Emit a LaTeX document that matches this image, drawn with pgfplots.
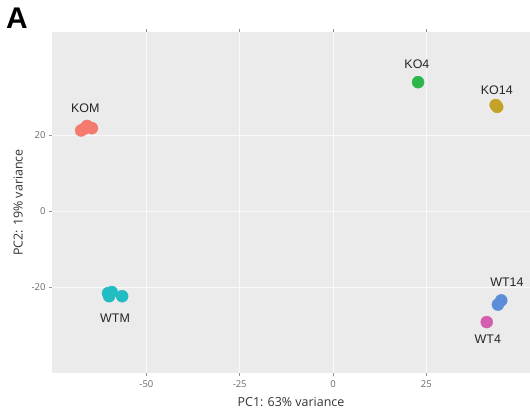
\documentclass[border=0pt]{standalone}
\usepackage{pgfplots}
\pgfplotsset{compat=1.18}
\usepackage{fontspec}
\setmainfont{Liberation Sans}
\newfontfamily\axfont{Open Sans}
\definecolor{panel}{HTML}{EBEBEB}
\definecolor{tickgray}{HTML}{4D4D4D}
\definecolor{cKOM}{HTML}{F47B6E}
\definecolor{cKOf}{HTML}{2DB64A}
\definecolor{cKOft}{HTML}{C4A227}
\definecolor{cWTM}{HTML}{22BCC2}
\definecolor{cWTft}{HTML}{5B8ED8}
\definecolor{cWTf}{HTML}{D45FB0}
\begin{document}
\begin{tikzpicture}[x=1bp,y=1bp]
\useasboundingbox (0,0) rectangle (530,418);
\node[anchor=north west,inner sep=0pt,font=\fontsize{30}{32}\selectfont\bfseries] at (6,410) {A};
\begin{axis}[
  at={(52bp,45bp)}, anchor=south west,
  scale only axis, width=478bp, height=341bp,
  xmin=-75.3, xmax=52.8, ymin=-42.6, ymax=47.1,
  axis background/.style={fill=panel},
  axis line style={draw=none},
  xtick={-50,-25,0,25}, xticklabels={-50,-25,0,25},
  ytick={-20,0,20}, yticklabels={-20,0,20},
  tick align=outside, major tick length=3bp,
  tick style={color=tickgray!60, line width=0.5pt},
  xmajorgrids, ymajorgrids,
  major grid style={white!75!panel, line width=0.6pt},
  tick label style={font=\axfont\fontsize{9.5}{11}\selectfont, text=tickgray!85},
  xticklabel style={yshift=-1bp},
  label style={font=\axfont\fontsize{12.5}{14}\selectfont, text=black!80},
  xlabel={PC1: 63\% variance},
  ylabel={PC2: 19\% variance},
  xlabel style={yshift=-3bp},
  ylabel style={yshift=2bp},
  clip=false,
]
\addplot[only marks, mark=*, mark size=6bp, color=cKOM] coordinates {(-67.5,21.2) (-65.9,22.4) (-64.6,21.8) (-66.6,21.7)};
\addplot[only marks, mark=*, mark size=6bp, color=cWTM] coordinates {(-60.3,-21.6) (-59.3,-21.3) (-56.5,-22.4) (-60.0,-22.4)};
\addplot[only marks, mark=*, mark size=6bp, color=cKOf] coordinates {(22.8,33.9)};
\addplot[only marks, mark=*, mark size=6bp, color=cKOft] coordinates {(43.6,27.9) (44.0,27.4)};
\addplot[only marks, mark=*, mark size=6bp, color=cWTft] coordinates {(44.2,-24.6) (45.1,-23.5)};
\addplot[only marks, mark=*, mark size=6bp, color=cWTf] coordinates {(41.2,-29.2)};
\begin{scope}[every node/.style={font=\fontsize{12.5}{14}\selectfont, text=black!85}]
\node at (axis cs:-66.4,27.1) {KOM};
\node at (axis cs:-58.4,-28.2) {WTM};
\node at (axis cs:22.5,38.7) {KO4};
\node at (axis cs:43.9,31.8) {KO14};
\node at (axis cs:46.6,-18.7) {WT14};
\node at (axis cs:41.5,-33.7) {WT4};
\end{scope}
\end{axis}
\end{tikzpicture}
\end{document}
